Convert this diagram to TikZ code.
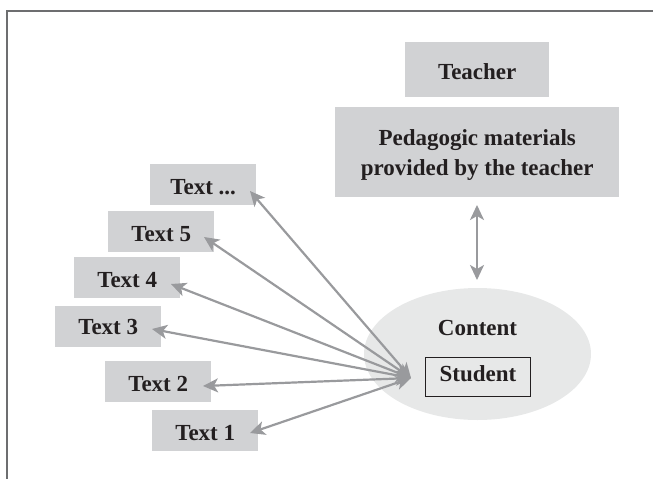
\documentclass[tikz,border=0pt]{standalone}
\usepackage{fontspec}
\setmainfont{Liberation Serif}
\usetikzlibrary{arrows.meta,shapes.geometric}
\definecolor{boxgray}{HTML}{D1D2D4}
\definecolor{ellgray}{HTML}{E7E8E8}
\definecolor{arrgray}{HTML}{999A9D}
\definecolor{inkc}{HTML}{231F20}
\definecolor{framec}{HTML}{6D6E70}
\newcommand{\lowerby}{\rule{0pt}{19pt}}
\newcommand{\lowerped}{\rule{0pt}{21pt}}
\tikzset{
  lab/.style={font=\fontsize{23}{30}\selectfont\bfseries, text=inkc, align=center},
  txtbox/.style={lab, fill=boxgray, minimum width=106pt, minimum height=41pt, inner sep=0pt, anchor=north west},
  duplex/.style={draw=arrgray, line width=2.2pt, {Stealth[length=15pt,width=14pt,inset=4pt]}-{Stealth[length=15pt,width=14pt,inset=4pt]}}
}
\begin{document}
\begin{tikzpicture}[x=1pt,y=-1pt]
\useasboundingbox (0,0) rectangle (653,479);
\draw[framec, line width=1.2pt] (7,479) -- (7,11) -- (653,11);
\node[lab, fill=boxgray, minimum width=144pt, minimum height=55pt, inner sep=0pt, anchor=north west] (teacher) at (405,42) {\lowerby Teacher};
\node[lab, fill=boxgray, minimum width=284pt, minimum height=90pt, inner sep=0pt, anchor=north west] (ped) at (335,107) {\lowerped Pedagogic materials\\provided by the teacher};
\node[fill=ellgray, ellipse, minimum width=227pt, minimum height=132pt, inner sep=0pt] (content) at (477.5,354) {};
\node[lab] (contentlab) at (477.5,328) {Content};
\node[lab, draw=inkc, line width=1pt, fill=ellgray, minimum width=105pt, minimum height=39pt, inner sep=0pt, anchor=north west] (student) at (425,357) {\rule[-6pt]{0pt}{0pt}Student};
\node[txtbox] (tn) at (150,164) {\lowerby Text ...};
\node[txtbox] (t5) at (108,211) {\lowerby Text 5};
\node[txtbox] (t4) at (74,257) {\lowerby Text 4};
\node[txtbox] (t3) at (55,306) {Text 3};
\node[txtbox] (t2) at (105,361) {\lowerby Text 2};
\node[txtbox] (t1) at (152,410) {\lowerby Text 1};
\coordinate (hub) at (411,378);
\coordinate (pn) at (250,191);
\coordinate (p5) at (204,237);
\coordinate (p4) at (171,284);
\coordinate (p3) at (152,329);
\coordinate (p2) at (203,386);
\coordinate (p1) at (250,433);
\coordinate (du) at (477,205);
\coordinate (dd) at (477,280);
\foreach \p in {pn,p5,p4,p3,p2,p1}{
  \draw[duplex] (hub) -- (\p);
}
\draw[duplex] (du) -- (dd);
\end{tikzpicture}
\end{document}
